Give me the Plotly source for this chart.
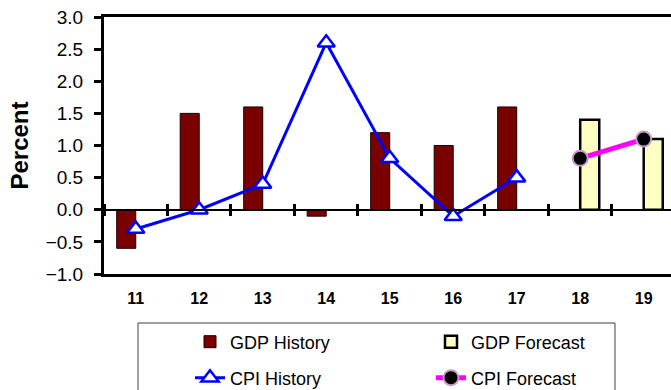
import plotly.graph_objects as go

# Years (two-digit) shown along the category axis
years = ["11", "12", "13", "14", "15", "16", "17", "18", "19"]

# Real GDP growth, percent
gdp_hist_years = ["11", "12", "13", "14", "15", "16", "17"]
gdp_hist = [-0.6, 1.5, 1.6, -0.1, 1.2, 1.0, 1.6]
gdp_fcst_years = ["18", "19"]
gdp_fcst = [1.4, 1.1]

# CPI inflation, percent
cpi_hist_years = ["11", "12", "13", "14", "15", "16", "17"]
cpi_hist = [-0.3, 0.0, 0.4, 2.6, 0.8, -0.1, 0.5]
cpi_fcst_years = ["18", "19"]
cpi_fcst = [0.8, 1.1]

y_ticks = [-1.0, -0.5, 0.0, 0.5, 1.0, 1.5, 2.0, 2.5, 3.0]

FONT = "Arial, Liberation Sans, sans-serif"
x_range = [-0.5, 8.43]

fig = go.Figure()

# History bars sit on the left half of each year slot, forecasts on the right
fig.add_trace(go.Bar(
    x=gdp_hist_years, y=gdp_hist, name="GDP History", legend="legend",
    width=0.3, offset=-0.3,
    marker=dict(color="#7a0000", line=dict(color="#1a0000", width=1)),
))
fig.add_trace(go.Bar(
    x=gdp_fcst_years, y=gdp_fcst, name="GDP Forecast", legend="legend",
    width=0.3, offset=0.0,
    marker=dict(color="#ffffc4", line=dict(color="black", width=2.5)),
))
fig.add_trace(go.Scatter(
    x=cpi_hist_years, y=cpi_hist, name="CPI History", mode="lines+markers",
    legend="legend2",
    line=dict(color="#0000ff", width=3),
    marker=dict(symbol="triangle-up", size=15, color="white",
                line=dict(color="#0000ff", width=2.5)),
))
fig.add_trace(go.Scatter(
    x=cpi_fcst_years, y=cpi_fcst, name="CPI Forecast", mode="lines+markers",
    legend="legend2",
    line=dict(color="#ff00ff", width=5),
    marker=dict(symbol="circle", size=15, color="black",
                line=dict(color="#c89ac8", width=2)),
))

# Placeholder traces so the zero-line tick axes are rendered
for ax in ("x2", "x3"):
    fig.add_trace(go.Scatter(
        x=years, y=[None] * len(years), xaxis=ax, yaxis="y",
        showlegend=False, hoverinfo="skip", mode="markers",
    ))

zero_axis = dict(
    type="category", categoryorder="array", categoryarray=years,
    range=x_range, overlaying="x", anchor="free", position=0.25,
    showline=True, linecolor="black", linewidth=2,
    ticks="outside", tickson="boundaries", ticklen=5, tickwidth=2.5,
    tickcolor="black", showticklabels=False, showgrid=False, zeroline=False,
)

legend_common = dict(
    orientation="h", xref="container", yref="container",
    x=190 / 671, xanchor="left", yanchor="middle",
    bgcolor="rgba(0,0,0,0)", borderwidth=0,
    font=dict(size=18, family=FONT),
    entrywidth=196, entrywidthmode="pixels", traceorder="normal",
)

fig.update_layout(
    width=671, height=390,
    margin=dict(l=104, r=0, t=17, b=116),
    paper_bgcolor="white", plot_bgcolor="white",
    font=dict(family=FONT, color="black"),
    barmode="overlay",
    xaxis=dict(
        type="category", categoryorder="array", categoryarray=years,
        range=x_range, showline=True, mirror=True, linecolor="black",
        linewidth=3, ticks="", showgrid=False, zeroline=False,
        tickfont=dict(size=16, family=FONT, weight="bold"),
        ticklabelstandoff=8,
    ),
    xaxis2=dict(zero_axis, side="bottom"),
    xaxis3=dict(zero_axis, side="top"),
    yaxis=dict(
        range=[-1, 3], tickvals=y_ticks, tickformat=".1f",
        showline=True, linecolor="black", linewidth=3,
        ticks="outside", ticklen=7, tickwidth=2.5, tickcolor="black",
        showgrid=False, zeroline=False,
        tickfont=dict(size=19, family=FONT),
        ticklabelstandoff=7,
        title=dict(text="<b>Percent</b>", font=dict(size=24, family=FONT),
                   standoff=11),
    ),
    legend=dict(legend_common, y=1 - 342 / 390),
    legend2=dict(legend_common, y=1 - 378 / 390),
    # Frame around the two legend rows
    shapes=[dict(
        type="rect", xref="paper", yref="paper",
        x0=(138 - 104) / 567, x1=(615 - 104) / 567,
        y0=(274 - 323) / 257, y1=(274 - 395) / 257,
        line=dict(color="#404040", width=1), fillcolor="rgba(0,0,0,0)",
        layer="below",
    )],
)

fig.write_html("out.html")
